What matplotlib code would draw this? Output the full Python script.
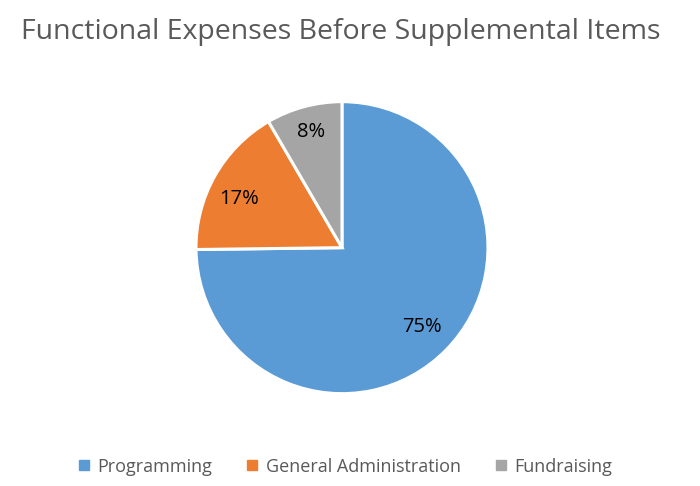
import numpy as np
import matplotlib.pyplot as plt
from matplotlib.lines import Line2D

categories = ["Programming", "General Administration", "Fundraising"]
shares = [74.8, 16.8, 8.4]
pct_labels = ["75%", "17%", "8%"]
colors = ["#5B9BD5", "#ED7D31", "#A5A5A5"]

plt.rcParams["font.family"] = ["Open Sans", "DejaVu Sans"]

fig = plt.figure(figsize=(7, 4.86), dpi=100)
# pie centre ~ (342, 248) px, radius ~146 px
ax = fig.add_axes([0.2800, 0.1900, 0.4171, 0.6008])

wedges, _ = ax.pie(
    shares,
    colors=colors,
    startangle=90,
    counterclock=False,
    radius=1,
    wedgeprops={"edgecolor": "white", "linewidth": 2.2},
)
ax.set_xlim(-1.0, 1.0)
ax.set_ylim(-1.0, 1.0)
ax.set_aspect("auto")

# percent labels, a bit like excel's best-fit placement
label_dist = [0.77, 0.78, 0.82]
label_shift = [0, 4, 0]  # degrees
for w, txt, dist, sh in zip(wedges, pct_labels, label_dist, label_shift):
    ang = np.deg2rad((w.theta1 + w.theta2) / 2 + sh)
    ax.text(dist * np.cos(ang), dist * np.sin(ang), txt,
            ha="center", va="center", fontsize=14.5, color="black")

fig.text(0.487, 0.935, "Functional Expenses Before Supplemental Items",
         ha="center", va="center", fontsize=20.5, color="#595959")

handles = [
    Line2D([], [], marker="s", linestyle="none", markersize=6.5,
           markerfacecolor=c, markeredgecolor=c)
    for c in colors
]
fig.legend(handles, categories, loc="center", bbox_to_anchor=(0.492, 0.04),
           ncol=3, frameon=False, fontsize=13, labelcolor="#595959",
           handlelength=0.8, handletextpad=0.35, columnspacing=1.8)

fig.savefig("out.png", dpi=100)
